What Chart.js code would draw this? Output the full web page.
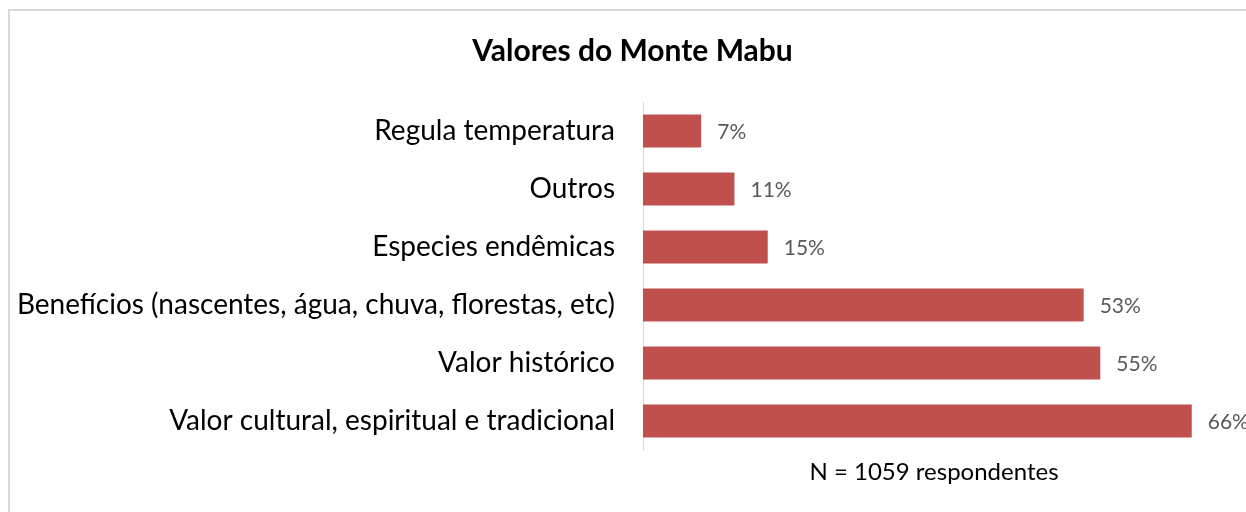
<!DOCTYPE html>
<html>
<head>
<meta charset="utf-8">
<script src="https://cdn.jsdelivr.net/npm/chart.js@4"></script>
<style>
  html, body { margin: 0; padding: 0; background: #fff; }
  #wrap { width: 1246px; height: 512px; position: relative; }
</style>
</head>
<body>
<div id="wrap"><canvas id="valores"></canvas></div>
<script>
const categorias = [
    'Regula temperatura',
    'Outros',
    'Especies endêmicas',
    'Benefícios (nascentes, água, chuva, florestas, etc)',
    'Valor histórico',
    'Valor cultural, espiritual e tradicional'
];
const percentagens = [7, 11, 15, 53, 55, 66];
const tituloTexto = 'Valores do Monte Mabu';
const notaTexto = 'N = 1059 respondentes';

const fonte = 'Lato, "Open Sans", sans-serif';

// moldura cinzenta do grafico (cortada a direita e em baixo)
const moldura = {
    id: 'moldura',
    beforeDraw(chart) {
        const ctx = chart.ctx;
        ctx.save();
        ctx.strokeStyle = '#d9d9d9';
        ctx.lineWidth = 2;
        ctx.strokeRect(9, 10, 1400, 700);
        ctx.restore();
    }
};

// deixa os rotulos compridos do eixo y passar para a margem esquerda
const margemRotulos = {
    id: 'margemRotulos',
    afterLayout(chart) {
        chart.scales.y.left = 0;
    }
};

// rotulos de percentagem ao lado das barras
const rotulos = {
    id: 'rotulos',
    afterDatasetsDraw(chart) {
        const ctx = chart.ctx;
        const meta = chart.getDatasetMeta(0);
        ctx.save();
        ctx.font = '21px ' + fonte;
        ctx.fillStyle = '#595959';
        ctx.textAlign = 'left';
        ctx.textBaseline = 'middle';
        meta.data.forEach((bar, i) => {
            ctx.fillText(percentagens[i] + '%', bar.x + 16, bar.y + 1);
        });
        ctx.restore();
    }
};

const canvas = document.getElementById('valores');
new Chart(canvas, {
    type: 'bar',
    data: {
        labels: categorias,
        datasets: [{
            data: percentagens,
            backgroundColor: '#c0504d',
            borderWidth: 0,
            categoryPercentage: 1,
            barPercentage: 0.57
        }]
    },
    options: {
        indexAxis: 'y',
        responsive: true,
        maintainAspectRatio: false,
        animation: false,
        layout: { padding: { left: 40, right: 21, top: 0, bottom: 0 } },
        plugins: {
            legend: { display: false },
            tooltip: { enabled: false },
            title: {
                display: true,
                text: tituloTexto,
                color: '#000',
                font: { family: fonte, size: 30, weight: 'bold', lineHeight: 1.2 },
                padding: { top: 33, bottom: 33 }
            }
        },
        scales: {
            x: {
                min: 0,
                max: 70,
                ticks: { display: false },
                grid: { display: false },
                border: { display: false },
                title: {
                    display: true,
                    text: notaTexto,
                    color: '#000',
                    font: { family: fonte, size: 24, lineHeight: 1.2 },
                    padding: { top: 8, bottom: 25 }
                },
                afterFit(scale) { scale.height = 62; }
            },
            y: {
                ticks: {
                    color: '#000',
                    font: { family: fonte, size: 28 },
                    padding: 28,
                    autoSkip: false
                },
                grid: { drawOnChartArea: false, drawTicks: false },
                border: { display: true, color: '#d9d9d9', width: 1 },
                afterFit(scale) { scale.width = 603; }
            }
        }
    },
    plugins: [moldura, margemRotulos, rotulos]
});
</script>
</body>
</html>
